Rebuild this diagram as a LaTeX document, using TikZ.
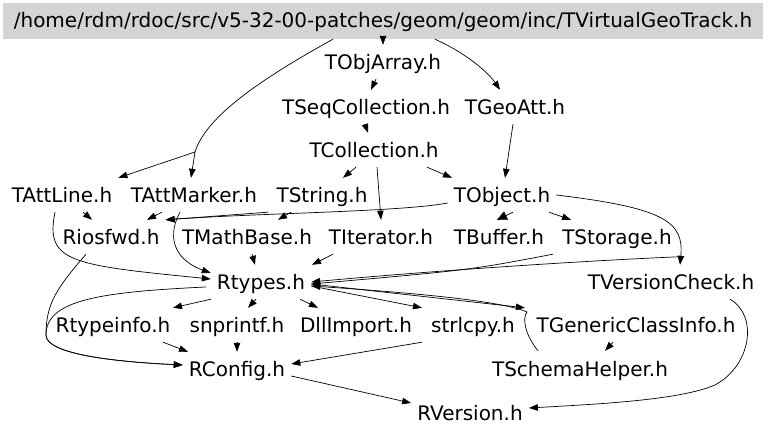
\documentclass[tikz,border=0pt]{standalone}
\usepackage{fontspec}
\setmainfont{DejaVu Sans}
\usetikzlibrary{arrows.meta,positioning,calc}

\tikzset{
  hfile/.style={inner xsep=6pt, inner ysep=0pt, text height=25pt, text depth=9pt, anchor=base},
  dep/.style={line width=0.7pt, -{Triangle[length=9pt,width=6.5pt]}},
  bigdep/.style={line width=0.7pt, -{Triangle[length=10pt,width=9pt]}}
}

\begin{document}
\begin{tikzpicture}[x=1pt,y=-1pt,font=\fontsize{20}{22}\selectfont]
  \useasboundingbox[fill=white] (0,0) rectangle (768,435);

  % Top file
  \node[fill=black!17, minimum width=760pt, inner ysep=0pt, text height=25pt, text depth=11pt, anchor=base] (top) at (383,28) {/home/rdm/rdoc/src/v5-32-00-patches/geom/geom/inc/TVirtualGeoTrack.h};

  % Included headers
  \node[hfile] (tobjarray) at (383,70) {TObjArray.h};
  \node[hfile] (tseqcoll) at (366,115) {TSeqCollection.h};
  \node[hfile] (tgeoatt) at (515,115) {TGeoAtt.h};
  \node[hfile] (tcoll) at (374,158) {TCollection.h};
  \node[hfile] (tattline) at (62,203) {TAttLine.h};
  \node[hfile] (tattmarker) at (194,203) {TAttMarker.h};
  \node[hfile] (tstring) at (322,203) {TString.h};
  \node[hfile] (tobject) at (502,203) {TObject.h};
  \node[hfile] (riosfwd) at (111,245) {Riosfwd.h};
  \node[hfile] (tmathbase) at (247,245) {TMathBase.h};
  \node[hfile] (titerator) at (381,245) {TIterator.h};
  \node[hfile] (tbuffer) at (499,245) {TBuffer.h};
  \node[hfile] (tstorage) at (617,245) {TStorage.h};
  \node[hfile] (rtypes) at (261,290) {Rtypes.h};
  \node[hfile] (tversioncheck) at (671,290) {TVersionCheck.h};
  \node[hfile] (rtypeinfo) at (113,333) {Rtypeinfo.h};
  \node[hfile] (snprintf) at (237,333) {snprintf.h};
  \node[hfile] (dllimport) at (356,333) {DllImport.h};
  \node[hfile] (strlcpy) at (473,333) {strlcpy.h};
  \node[hfile] (tgenericci) at (636,333) {TGenericClassInfo.h};
  \node[hfile] (rconfig) at (237,377) {RConfig.h};
  \node[hfile] (tschemahelper) at (580,376) {TSchemaHelper.h};
  \node[hfile] (rversion) at (470,420) {RVersion.h};

  \coordinate (fork) at (195,152);
  \coordinate (bend) at (46,335);

  % From the top file
  \draw[dep] (top.south) -- (tobjarray.north);
  \draw[dep] ([xshift=52pt]top.south) .. controls (470,55) and (490,75) .. ([xshift=-15pt]tgeoatt.north);
  \draw[line width=0.7pt] ([xshift=-50pt]top.south) .. controls (250,85) and (205,120) .. (fork);
  \draw[dep] (fork) -- (tattline.north east);
  \draw[dep] (fork) -- ([xshift=-3pt]tattmarker.north);

  % Collections
  \draw[dep] ([xshift=-7pt]tobjarray.south) -- ([xshift=5pt]tseqcoll.north);
  \draw[dep] ([xshift=-1pt]tseqcoll.south) -- ([xshift=-6pt]tcoll.north);
  \draw[dep] ([xshift=-18pt]tcoll.south) -- ([xshift=21pt]tstring.north);
  \draw[dep] ([xshift=3pt]tcoll.south) -- (titerator.north);
  \draw[dep] ([xshift=53pt]tcoll.south) -- ([xshift=-50pt]tobject.north);
  \draw[dep] ([xshift=-2pt]tgeoatt.south) -- ([xshift=3pt]tobject.north);

  % Attributes, TString and TObject
  \draw[dep] ([xshift=21pt]tattline.south) -- ([xshift=-19pt]riosfwd.north);
  \draw[dep] ([xshift=-7pt]tattline.south) .. controls (45,262) and (70,265) .. ([yshift=3pt]rtypes.west);
  \draw[dep] ([xshift=-32pt]tattmarker.south) -- ([xshift=36pt]riosfwd.north);
  \draw[dep] ([xshift=-14pt]tattmarker.south) .. controls (164,242) and (180,262) .. ([yshift=9pt]rtypes.west);
  \draw[dep] ([xshift=-54pt]tstring.south) -- (riosfwd.north east);
  \draw[dep] ([xshift=-31pt]tstring.south) -- ([xshift=31pt]tmathbase.north);
  \draw[dep] ([yshift=-8pt]tobject.west) .. controls (400,212) and (260,213) .. (riosfwd.north east);
  \draw[bigdep] ([xshift=11pt]tobject.south) -- ([xshift=-2pt]tbuffer.north);
  \draw[dep] ([xshift=47pt]tobject.south) -- ([xshift=-46pt]tstorage.north);
  \draw[dep] (tobject.east) .. controls (665,208) and (684,222) .. ([xshift=9pt]tversioncheck.north);
  \draw[dep] ([xshift=7pt,yshift=8pt]tversioncheck.north) .. controls (560,262) and (420,272) .. (rtypes.east);
  \draw[dep] ([xshift=-64pt]tstorage.south) .. controls (470,270) .. ([yshift=-2pt]rtypes.east);

  % Into Rtypes.h
  \draw[dep] ([xshift=5pt]tmathbase.south) -- ([xshift=-6pt]rtypes.north);
  \draw[dep] ([xshift=-48pt]titerator.south) -- ([xshift=51pt]rtypes.north);
  \draw[dep] ([xshift=-5pt,yshift=-5pt]rtypes.west) .. controls (100,292) and (46,300) .. (bend) .. controls (46,355) and (120,362) .. ([yshift=4pt]rconfig.west);
  \draw[dep] ([xshift=-25pt]riosfwd.south) .. controls (55,290) and (46,305) .. (bend) .. controls (46,355) and (120,362) .. ([yshift=4pt]rconfig.west);
  \draw[dep] ([xshift=-50pt]rtypes.south) -- ([xshift=60pt]rtypeinfo.north);
  \draw[dep] ([xshift=-5pt]rtypes.south) -- ([xshift=11pt]snprintf.north);
  \draw[dep] ([xshift=39pt]rtypes.south) -- ([xshift=-38pt]dllimport.north);
  \draw[dep] ([yshift=-4pt]rtypes.east) -- ([xshift=-51pt]strlcpy.north);
  \draw[dep] ([yshift=-2pt]rtypes.east) -- ([xshift=-111pt]tgenericci.north);
  \draw[dep] ([xshift=-42pt]tschemahelper.north) .. controls (525,335) and (522,318) .. (527,312) .. controls (500,300) and (400,292) .. ([yshift=-4pt]rtypes.east);

  % Into RConfig.h and RVersion.h
  \draw[dep] ([xshift=50pt]rtypeinfo.south) -- ([xshift=-49pt]rconfig.north);
  \draw[dep] (snprintf.south) -- (rconfig.north);
  \draw[dep] ([xshift=-51pt]strlcpy.south) -- ([yshift=5pt]rconfig.east);
  \draw[dep] ([xshift=-23pt]tgenericci.south) -- ([xshift=25pt]tschemahelper.north);
  \draw[dep] ([yshift=-7pt]rconfig.east) -- ([yshift=9pt]rversion.west);
  \draw[dep] ([xshift=59pt]tversioncheck.south) .. controls (758,315) and (752,365) .. (715,385) .. controls (680,400) and (600,404) .. ([yshift=4pt]rversion.east);
\end{tikzpicture}
\end{document}
